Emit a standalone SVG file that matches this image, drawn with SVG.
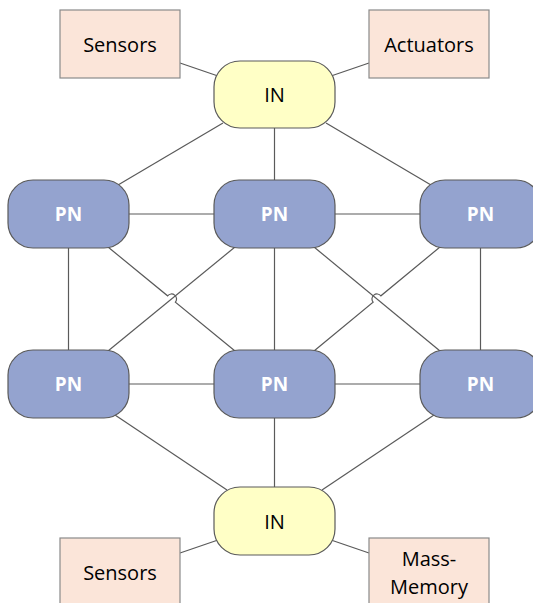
<svg xmlns="http://www.w3.org/2000/svg" width="533" height="603" viewBox="0 0 533 603">
  <style>
    .edge { fill: none; stroke: #5a5a5a; stroke-width: 1.2; }
    .io { fill: #fbe5d9; stroke: #8a8a8a; stroke-width: 1.2; }
    .in { fill: #ffffc6; stroke: #5a5a5a; stroke-width: 1.2; }
    .pn { fill: #94a3cf; stroke: #5a5a5a; stroke-width: 1.2; }
    .lbl { font-family: "Open Sans", "Liberation Sans", sans-serif; font-size: 20px; fill: #000; text-anchor: middle; }
    .pnl { font-family: "Open Sans", "Liberation Sans", sans-serif; font-size: 19px; font-weight: bold; fill: #fff; text-anchor: middle; }
  </style>

  <!-- connectors -->
  <g id="connectors">
    <!-- peripherals to interface nodes -->
    <line class="edge" x1="180" y1="63" x2="218" y2="76"/>
    <line class="edge" x1="369" y1="63" x2="331" y2="76"/>
    <line class="edge" x1="180" y1="553" x2="218" y2="540"/>
    <line class="edge" x1="369" y1="553" x2="331" y2="540"/>
    <!-- top IN to top PN row -->
    <line class="edge" x1="223" y1="123" x2="118" y2="185"/>
    <line class="edge" x1="274.5" y1="128" x2="274.5" y2="180"/>
    <line class="edge" x1="326" y1="123" x2="431" y2="185"/>
    <!-- horizontal PN links -->
    <line class="edge" x1="129" y1="214" x2="214" y2="214"/>
    <line class="edge" x1="335" y1="214" x2="420" y2="214"/>
    <line class="edge" x1="129" y1="384" x2="214" y2="384"/>
    <line class="edge" x1="335" y1="384" x2="420" y2="384"/>
    <!-- vertical PN links -->
    <line class="edge" x1="68.5" y1="248" x2="68.5" y2="350"/>
    <line class="edge" x1="274.5" y1="248" x2="274.5" y2="350"/>
    <line class="edge" x1="480.5" y1="248" x2="480.5" y2="350"/>
    <!-- diagonal PN links with line hops -->
    <path class="edge" d="M108 247 L167.6 295.8 A5 5 0 0 1 175.4 302.2 L235 351"/>
    <line class="edge" x1="235" y1="247" x2="108" y2="351"/>
    <line class="edge" x1="314" y1="247" x2="440" y2="351"/>
    <path class="edge" d="M440 247 L380.9 295.8 A5 5 0 0 0 373.1 302.2 L314 351"/>
    <!-- bottom PN row to bottom IN -->
    <line class="edge" x1="115" y1="415" x2="227" y2="490"/>
    <line class="edge" x1="274.5" y1="418" x2="274.5" y2="487"/>
    <line class="edge" x1="434" y1="415" x2="322" y2="490"/>
  </g>

  <!-- peripherals -->
  <g id="sensors-top">
    <rect class="io" x="60" y="10" width="120" height="68"/>
    <text class="lbl" x="120" y="52">Sensors</text>
  </g>
  <g id="actuators">
    <rect class="io" x="369" y="10" width="120" height="68"/>
    <text class="lbl" x="429" y="52">Actuators</text>
  </g>
  <g id="sensors-bottom">
    <rect class="io" x="60" y="538" width="120" height="70"/>
    <text class="lbl" x="120" y="580">Sensors</text>
  </g>
  <g id="mass-memory">
    <rect class="io" x="369" y="538" width="120" height="70"/>
    <text class="lbl" x="429" y="566">Mass-</text>
    <text class="lbl" x="429" y="594">Memory</text>
  </g>

  <!-- interface nodes -->
  <g id="in-top">
    <rect class="in" x="214" y="61" width="121" height="67" rx="26" ry="26"/>
    <text class="lbl" x="274.5" y="102">IN</text>
  </g>
  <g id="in-bottom">
    <rect class="in" x="214" y="487" width="121" height="68" rx="26" ry="26"/>
    <text class="lbl" x="274.5" y="529">IN</text>
  </g>

  <!-- processing nodes -->
  <g id="pn-top-left">
    <rect class="pn" x="8" y="180" width="121" height="68" rx="25" ry="25"/>
    <text class="pnl" x="68.5" y="221">PN</text>
  </g>
  <g id="pn-top-middle">
    <rect class="pn" x="214" y="180" width="121" height="68" rx="25" ry="25"/>
    <text class="pnl" x="274.5" y="221">PN</text>
  </g>
  <g id="pn-top-right">
    <rect class="pn" x="420" y="180" width="121" height="68" rx="25" ry="25"/>
    <text class="pnl" x="480.5" y="221">PN</text>
  </g>
  <g id="pn-bottom-left">
    <rect class="pn" x="8" y="350" width="121" height="68" rx="25" ry="25"/>
    <text class="pnl" x="68.5" y="391">PN</text>
  </g>
  <g id="pn-bottom-middle">
    <rect class="pn" x="214" y="350" width="121" height="68" rx="25" ry="25"/>
    <text class="pnl" x="274.5" y="391">PN</text>
  </g>
  <g id="pn-bottom-right">
    <rect class="pn" x="420" y="350" width="121" height="68" rx="25" ry="25"/>
    <text class="pnl" x="480.5" y="391">PN</text>
  </g>
</svg>
